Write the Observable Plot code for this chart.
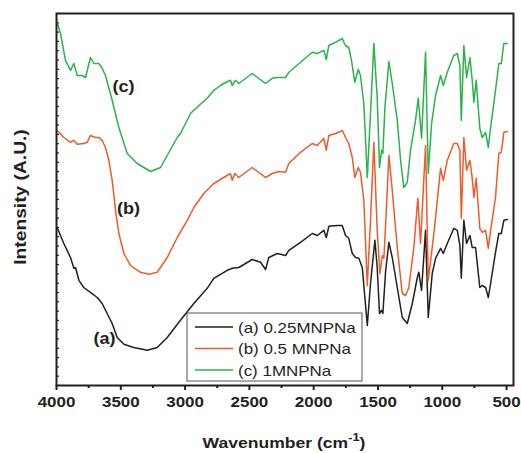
<!DOCTYPE html>
<html><head><meta charset="utf-8">
<script src="https://cdn.jsdelivr.net/npm/d3@7"></script>
<script src="https://cdn.jsdelivr.net/npm/@observablehq/plot@0.6"></script>
<style>body{margin:0;background:#fff}svg{display:block}</style>
</head><body><div id="chart"></div>
<script>
// Series names and colours
const legendNames = ["(a) 0.25MNPNa", "(b) 0.5 MNPNa", "(c) 1MNPNa"];
const seriesColors = ["#231f20", "#f15a29", "#2bb34b"];

// (a) 0.25MNPNa
const wA = [3995,3943,3891,3865,3852,3826,3788,3736,3683,3645, 3606,3567,3528,3476,3399,3294,3217,3139,3036,2932, 2828,2777,2672,2633,2582,2478,2413,2374,2349,2283, 2219,2193,2102,2011,1972,1921,1902,1882,1817,1778, 1752,1727,1700,1674,1649,1622,1583,1558,1524,1506, 1488,1472,1462,1440,1415,1389,1350,1311,1272,1233, 1194,1182,1161,1130,1109,1078,1052,1013,992,961, 910,883,863,852,832,811,785,767,741,708, 689,663,642,624,586,560,541,521,494];
const iA = [39.5,35.5,32,29.3,29.5,26.3,24.5,23.3,22,20.5, 18,15.5,12,10.3,9.5,8.8,9.5,12,16.3,20.5, 24.3,26.8,28.8,29.3,29.5,31.5,30.8,29,32,33, 32.5,33.8,35.8,38,37.5,38.8,37,39.8,40,40, 37.5,36.8,33,32,31.8,29.5,15,25.5,36.3,29.5, 18,18.8,18,28.8,35.8,32,24.5,17,15.5,20.5, 27,28.3,23.8,38.8,17,28,31.8,34.3,33,35.5, 39.3,38.8,35,26.8,41.3,35.5,37.5,34.5,34.5,24.5, 25,24.5,22,25.5,33.3,38,38,41.3,41.5];

// (b) 0.5 MNPNa
const wB = [3995,3943,3891,3865,3839,3788,3761,3736,3697,3671, 3645,3619,3593,3567,3549,3541,3515,3476,3424,3347, 3282,3217,3139,3061,2983,2932,2854,2777,2699,2647, 2633,2613,2582,2478,2374,2322,2271,2219,2193,2102, 2011,1972,1921,1902,1882,1830,1791,1778,1752,1727, 1700,1680,1653,1636,1610,1583,1558,1532,1506,1485, 1466,1454,1440,1415,1389,1350,1311,1285,1260,1221, 1190,1169,1130,1109,1065,1013,992,961,910,883, 863,852,832,811,785,767,754,736,708,689, 663,642,624,586,560,541,521,494];
const iB = [63.8,62,60.8,61.3,60.3,60.5,60.8,62.5,62,62, 61.3,59.5,56.3,51.3,46.3,43.8,38,33,30,28.3, 27.8,28.3,32,37,41.3,44.5,48,50.5,52,53, 51.3,53,52,54.5,52,53,53.5,53.3,55.5,58.3, 60.5,60,61.8,58.8,62.5,63,63.5,63.8,62,60.5, 57,52,54.5,53.3,46.3,25,41.3,60.8,38.8,28, 32.5,31.8,40.5,57.5,48.8,34.5,23,22.5,24.5,34.5, 46.8,35.5,60,26.3,38,54.3,51.3,56.3,60.5,60.5, 58.8,41.8,62,53.8,56.3,51.8,47,51.8,39.3,38.3, 38.8,34.3,38.8,47,58,58.3,63.3,63.5];

// (c) 1MNPNa
const wC = [3995,3969,3930,3891,3865,3839,3800,3774,3736,3710, 3671,3645,3619,3567,3515,3450,3372,3269,3191,3061, 3036,2958,2932,2828,2777,2724,2699,2647,2633,2608, 2582,2478,2374,2322,2283,2219,2193,2102,2011,1972, 1921,1902,1882,1830,1791,1778,1765,1752,1727,1706, 1680,1653,1636,1610,1583,1558,1532,1506,1488,1472, 1462,1446,1415,1389,1350,1324,1299,1272,1247,1208, 1187,1161,1130,1109,1083,1052,1013,992,961,910, 883,863,852,832,811,785,767,754,736,708, 689,663,642,624,586,560,541,521,494];
const iC = [90.8,88.0,81.3,78.8,80.5,77.5,77.5,77,82,80.5, 80.5,79.3,77.5,71.3,64.5,58,55.5,53.5,54.5,62, 63,68,68.8,71.8,73.8,75,75.5,76.3,75,76.3, 75.5,78,75.5,76.8,77,77,78.3,80.8,83.3,83, 83.8,81.5,85,85.8,86.5,86.8,85.8,85,84.5,81.3, 75.8,79,77.5,70.5,52,68,85.5,72,54.5,58.8, 58,69.5,81,75.5,66.3,56.3,49.5,50.8,58.8,66.3, 71.8,61.8,83.3,53,65.5,72.5,77.5,75,78.3,82.5, 83,80,66.3,85,77,82,76.3,70.8,76.3,64.3, 62,63.3,59.5,64.5,73.8,80.5,80.5,85.5,85.5];

// Curve labels
const curveLabels = ["(a)", "(b)", "(c)"];
const curveLabelW = [3627, 3440, 3479];
const curveLabelI = [11.75, 44.25, 74.75];

// Axis ticks
const xMajor = [4000, 3500, 3000, 2500, 2000, 1500, 1000, 500];
const xMinor = [3750, 3250, 2750, 2250, 1750, 1250, 750];
const yTicks = d3.range(0, 41).map(k => k * 93 / 40);

const rows = [];
[[wA, iA], [wB, iB], [wC, iC]].forEach(([w, i], s) => {
  w.forEach((v, k) => rows.push({series: legendNames[s], w: v, i: i[k]}));
});
const labelRows = curveLabels.map((t, k) => ({t, w: curveLabelW[k], i: curveLabelI[k]}));

const FONT = "'Liberation Sans', Arial, Helvetica, sans-serif";
const INK = "#231f20";

const chart = Plot.plot({
  width: 521, height: 453,
  marginLeft: 56, marginRight: 8, marginTop: 13, marginBottom: 68,
  style: {fontFamily: FONT, background: "#fff", color: INK},
  x: {domain: [4000, 446], label: null},
  y: {domain: [0, 93], label: null},
  color: {domain: legendNames, range: seriesColors},
  marks: [
    Plot.axisX({ticks: xMinor, tickSize: 3, tickFormat: () => "", label: null, strokeWidth: 2}),
    Plot.axisX({ticks: xMajor, tickSize: 5, tickPadding: 6, tickFormat: d => String(d),
      fontSize: 15, fontWeight: "bold", label: null, strokeWidth: 2}),
    Plot.axisY({ticks: yTicks, tickSize: 3, tickFormat: () => "", label: null, strokeWidth: 1.2, dx: 3}),
    Plot.line(rows, {x: "w", y: "i", z: "series", stroke: "series", strokeWidth: 1.5, curve: "linear"}),
    Plot.text(labelRows, {x: "w", y: "i", text: "t", fontSize: 16, fontWeight: "bold", fill: INK}),
    Plot.frame({stroke: INK, strokeWidth: 2})
  ]
});
document.getElementById("chart").append(chart);

const svg = d3.select(chart);
// y-axis title
svg.append("text")
  .attr("transform", "translate(26,197) rotate(-90)")
  .attr("text-anchor", "middle").attr("font-weight", "bold").attr("font-size", 16)
  .attr("fill", INK).attr("data-stretch", 1.2)
  .text("Intensity (A.U.)");
// x-axis title
const xl = svg.append("text")
  .attr("x", 284).attr("y", 448).attr("text-anchor", "middle")
  .attr("font-weight", "bold").attr("font-size", 15).attr("fill", INK).attr("data-stretch", 1.17);
xl.append("tspan").text("Wavenumber (cm");
xl.append("tspan").attr("dy", -7).attr("font-size", 11).text("-1");
xl.append("tspan").attr("dy", 7).text(")");

// legend
const lg = svg.append("g");
lg.append("rect").attr("x", 187).attr("y", 313).attr("width", 175).attr("height", 68)
  .attr("fill", "#fff").attr("stroke", "#555").attr("stroke-width", 1);
legendNames.forEach((name, k) => {
  const y = 327 + k * 21.5;
  lg.append("line").attr("x1", 195).attr("x2", 233).attr("y1", y).attr("y2", y)
    .attr("stroke", seriesColors[k]).attr("stroke-width", 1.5);
  lg.append("text").attr("x", 238).attr("y", y + 5.5).attr("font-size", 15)
    .attr("text-anchor", "start")
    .attr("fill", INK).attr("data-stretch", 1.13).text(name);
});

// widen glyphs to match the reference's broad lettering
chart.querySelectorAll("text").forEach(t => {
  const f = +(t.getAttribute("data-stretch") || 1.13);
  const len = t.getComputedTextLength();
  if (len > 0) {
    t.setAttribute("textLength", len * f);
    t.setAttribute("lengthAdjust", "spacingAndGlyphs");
  }
});
</script>
</body></html>
